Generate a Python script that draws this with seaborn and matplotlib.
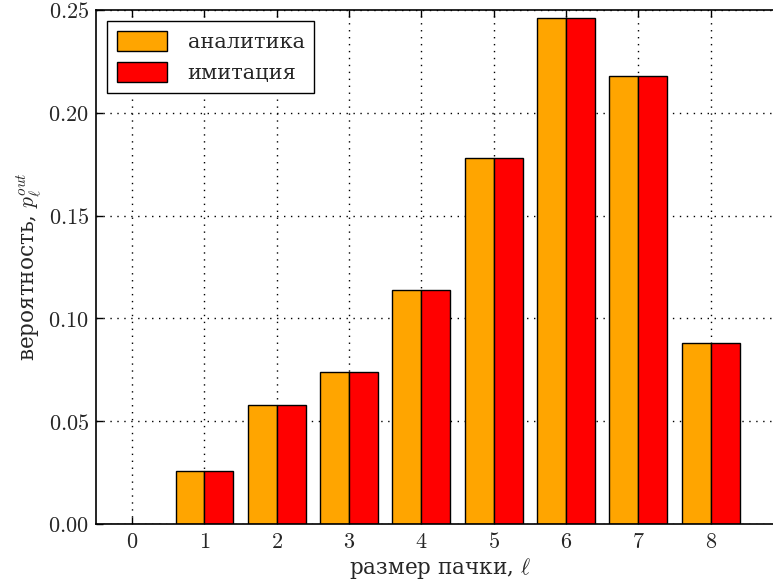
import matplotlib
matplotlib.use("Agg")
from matplotlib import pyplot as plt
from matplotlib.ticker import FuncFormatter
import pandas as pd
import seaborn as sns

sizes = [0, 1, 2, 3, 4, 5, 6, 7, 8]
analytic = [0.0, 0.026, 0.058, 0.074, 0.114, 0.178, 0.246, 0.218, 0.088]
simulation = [0.0, 0.026, 0.058, 0.074, 0.114, 0.178, 0.246, 0.218, 0.088]
series_names = ["аналитика", "имитация"]
colors = ["#FFA500", "#FF0000"]

df = pd.DataFrame({
    "size": sizes * 2,
    "p": analytic + simulation,
    "source": [series_names[0]] * len(sizes) + [series_names[1]] * len(sizes),
})

sns.set_style("white")
plt.rcParams["font.family"] = ["DejaVu Serif"]
plt.rcParams["mathtext.fontset"] = "cm"

fig = plt.figure(figsize=(7.73, 5.88), dpi=100)
ax = fig.add_axes([96 / 773, 64 / 588, 687 / 773, 514 / 588])

sns.barplot(data=df, x="size", y="p", hue="source", palette=colors,
            width=0.8, edgecolor="black", linewidth=1.0, saturation=1,
            errorbar=None, ax=ax)

ax.set_xlim(-0.5, 9.0)
ax.set_ylim(0, 0.25)
ax.set_yticks([0.0, 0.05, 0.10, 0.15, 0.20, 0.25])
ax.yaxis.set_major_formatter(FuncFormatter(lambda v, p: "$%.2f$" % v))
ax.set_xticks(range(len(sizes)))
ax.set_xticklabels(["$%d$" % s for s in sizes])

ax.grid(True, linestyle=(0, (1, 4)), color="black", linewidth=1.0)
ax.set_axisbelow(True)
ax.tick_params(direction="in", length=5, width=1, top=True, right=True,
               bottom=True, left=True, labelsize=16, pad=5, color="black")
for s in ax.spines.values():
    s.set_color("black")
    s.set_linewidth(1.2)

ax.set_xlabel(r"размер пачки, $\ell$", fontsize=15.5)
ax.set_ylabel(r"вероятность, $p_\ell^{out}$", fontsize=15.5)
ax.xaxis.set_label_coords(0.5, -0.062)
ax.yaxis.set_label_coords(-0.076, 0.5)

ax.legend(loc="upper left", fontsize=15, frameon=True, fancybox=False,
          edgecolor="black", framealpha=1, handlelength=2.4, handleheight=1.1,
          handletextpad=1.0, borderpad=0.45, labelspacing=0.5, borderaxespad=0.55)
ax.get_legend().get_frame().set_linewidth(1.0)

fig.savefig("out.png", dpi=100)
